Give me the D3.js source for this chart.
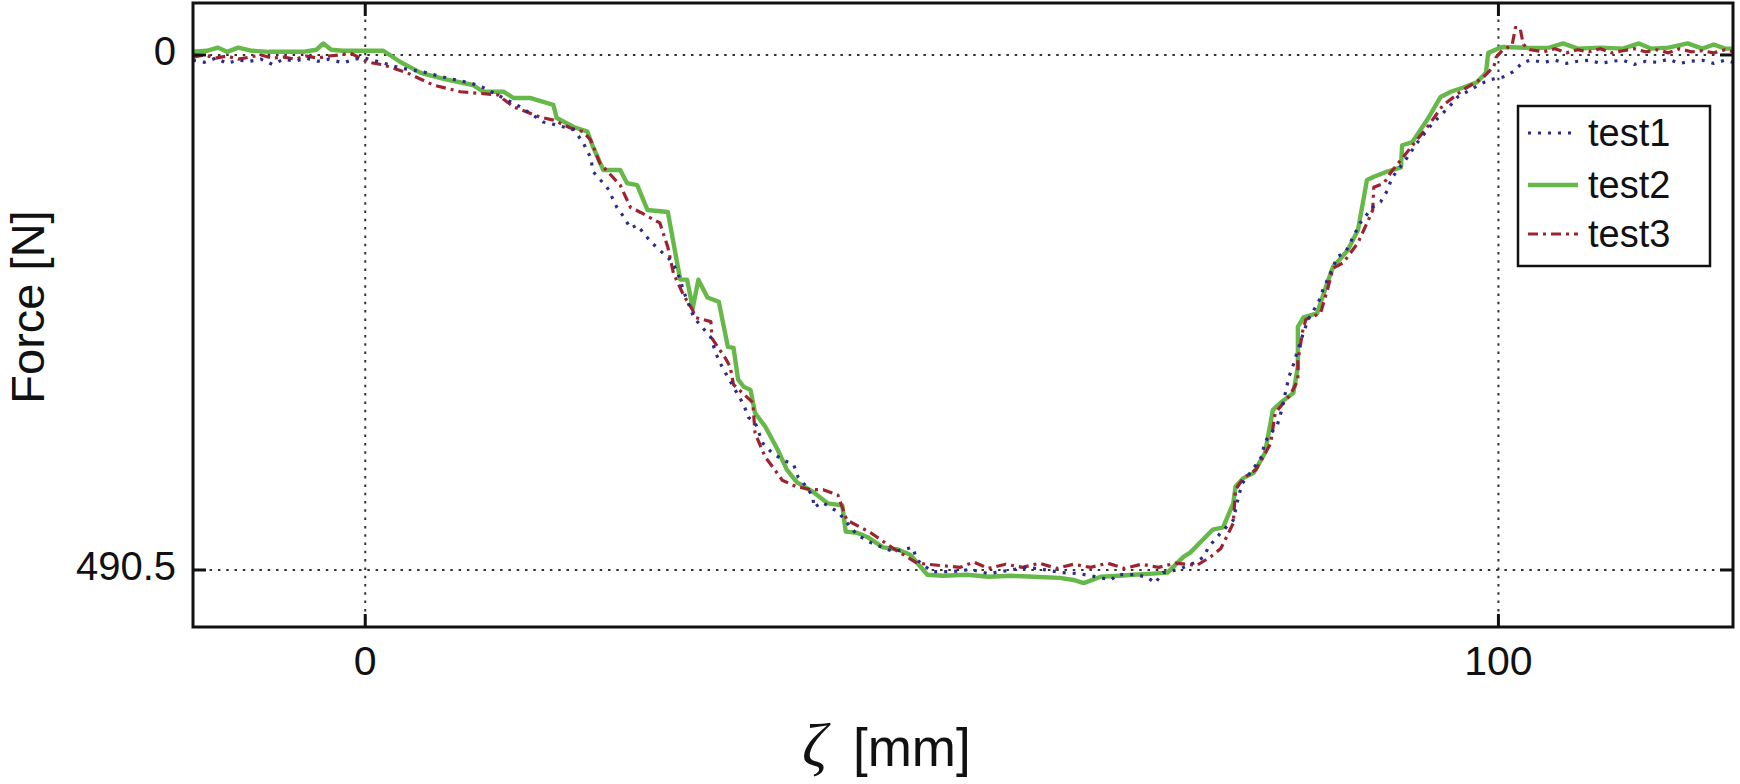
<!DOCTYPE html>
<html><head><meta charset="utf-8">
<script src="https://cdn.jsdelivr.net/npm/d3@7"></script>
<style>html,body{margin:0;padding:0;background:#fff;}svg{display:block;}</style>
</head><body>
<svg id="chart" width="1740" height="784"></svg>
<script>
const xTicks = [0, 100];
const xTickLabels = ["0", "100"];
const yTicks = [0, 490.5];
const yTickLabels = ["0", "490.5"];
const seriesNames = ["test1", "test2", "test3"];

const test1 = [[-15.2,5],[-14.2,7],[-13.2,3],[-12.2,8],[-11.2,5],[-10.2,6],[-9.2,4],[-8.2,9],[-7.2,4],[-6.2,6],[-5.2,3],[-4.2,6],[-3.2,4],[-1.9,7.6],[-1,4],[0,3],[1.3,6.7],[3.1,12.4],[5.1,16.2],[7.2,21.9],[9.3,26.7],[10.3,30.5],[12.2,41],[13.7,49.5],[15.7,63.8],[16.9,66.7],[18.4,71.4],[19.2,82.9],[19.9,98],[20.1,111],[21.4,127],[22.2,145],[22.8,154],[23.4,165],[24.0,162],[25.2,178],[26.3,189],[26.9,195],[27.5,205],[28.2,228],[29.0,250],[29.7,259],[30.5,269],[30.9,283],[31.3,293],[31.8,303],[32.8,322],[33.4,333],[33.8,345],[34.4,350],[35.1,370],[35.9,379],[36.9,386],[37.8,390],[38.2,402],[39.0,412],[39.5,421],[39.6,431],[40.3,426],[41.7,435],[43.4,457],[44.7,465],[46.6,473],[48.3,469],[48.7,481],[50.0,492],[51.9,492],[53.4,490],[55,494],[56.7,491],[58.4,488],[59.8,490],[61.5,493],[63,494],[64.5,497],[65.8,500],[66.4,495],[68.1,495],[69.1,498],[69.7,503],[70.4,493],[71.8,490],[73.3,483],[74.0,478],[74.4,469],[75.5,455],[76.6,443],[77.1,419],[77.4,408],[78.3,395],[79.2,381],[79.3,370],[80.5,352],[80.8,341],[81.3,317],[81.5,307],[81.9,295],[82.5,274],[83.2,252],[83.7,243],[84.1,236],[84.5,224],[85.0,212],[85.8,192],[86.5,188],[87.8,160],[88.9,145],[89.6,140],[90.2,129],[90.6,117],[91.8,100],[92.8,84],[94.2,65],[95.6,50],[96.4,40],[98.2,29],[99.1,24],[100.4,21],[101.3,16],[102.1,7.6],[102.8,4.8],[104,7],[105,5],[106,8],[107,6],[108,5],[109,8],[110,6],[111,5],[112,9],[113,6],[114,7],[115,4],[116,8],[117,6],[118,5],[119,8],[120,5],[120.7,7]];

const test2 = [[-15.2,-3],[-14,-4],[-13,-7],[-12.2,-3],[-11.2,-7],[-10,-4],[-8.5,-3],[-7,-3],[-5.5,-3],[-4.3,-5],[-3.7,-11],[-3,-5],[-2,-4],[0,-4],[1.6,-4],[3.1,6.7],[4.9,17],[7,23],[9.5,28.6],[10.4,35],[12.2,35],[13.1,41],[14.6,41],[16.6,47.6],[16.9,60],[18.4,68.6],[19.6,73],[20.1,87.6],[21.0,109.5],[22.5,109.5],[23.1,122],[24.0,124],[24.9,147.6],[26.7,149.5],[27.2,179],[27.8,214],[28.4,214],[28.9,241],[29.4,214],[30.2,231],[31.2,235],[32.0,278],[32.5,279],[32.9,309],[33.4,316],[34.0,319],[34.4,341],[35.3,354],[36.4,376],[37.2,395],[38.1,407],[39.5,416],[40.8,427],[42.1,429],[42.4,454],[43.4,455],[44.3,459],[45.7,469],[47.0,471],[48.1,476],[49.6,495],[51,496],[53.1,495],[55,497],[57,496],[59,497],[61.3,498],[62.5,500],[63.4,503],[64.9,497],[66.5,496],[67.8,495],[69.5,494],[70.8,493],[72.2,478],[72.8,474],[74.8,452],[75.7,450],[76.6,427],[76.8,411],[77.5,403],[78.4,398],[79.4,379],[80.1,338],[80.8,331],[81.9,322],[82.3,297],[82.3,259],[82.8,250],[84.0,246],[84.9,217],[85.4,202],[86.7,186],[87.6,167],[88.4,119],[89.0,116],[90.2,111],[91.4,107],[91.5,86],[92.4,83],[93.7,62],[94.9,40],[95.8,35],[96.9,31],[98.1,26],[98.9,17],[99.1,-2],[100.3,-7.6],[102.8,-6.7],[104.5,-7],[105.7,-11],[107,-6],[109,-7],[111,-6],[112.4,-11],[113.5,-6],[115,-7],[116.7,-11],[118,-6],[119,-10],[120,-6],[120.7,-6]];

const test3 = [[-15.2,2],[-14.2,0],[-13.2,3],[-12.2,1],[-11.2,4],[-10.2,2],[-9.2,0],[-8.2,3],[-7.2,2],[-6.2,4],[-5.2,1],[-4.2,3],[-3.2,1],[-2.2,0],[-1.3,-1.9],[0.2,6.7],[1.6,9.5],[3.7,17],[6.0,28.6],[8.4,35],[11.7,38],[13.1,49.5],[15.4,59],[16.6,62],[18.1,69.5],[19.2,73],[19.9,81],[20.7,103],[22.5,124],[23.4,145],[24.3,150],[26.0,160],[26.7,183],[27.2,208],[28.1,229],[28.9,243],[29.1,250],[30.5,254],[30.6,270],[31.8,289],[32.2,297],[32.5,314],[34.2,331],[34.4,360],[34.9,373],[35.3,383],[36.0,393],[36.8,405],[38.0,411],[39.3,414],[40.4,414],[41.7,419],[42.5,443],[44.6,455],[46.6,470],[48.7,484],[50.5,486],[52.5,488],[53.7,483],[55,489],[56.5,485],[58,488],[59.5,484],[61,489],[62.5,485],[64,488],[65.5,484],[67,489],[68.5,485],[70,488],[71.5,484],[73.4,486],[74.6,478],[75.5,470],[76.1,457],[76.6,446],[76.8,414],[77.5,403],[78.6,395],[79.9,370],[80.3,341],[81.6,324],[82.3,310],[82.3,292],[82.7,264],[83.0,252],[84.3,246],[84.9,224],[85.4,203],[86.3,198],[87.6,179],[88.4,160],[88.9,148],[89.0,126],[89.9,122],[90.5,112],[92.2,89],[93.7,69],[95.1,48],[96.9,33],[98.6,22],[99.6,11],[99.8,2],[100.4,-5],[101.2,-9],[101.5,-26],[101.9,-26],[102.2,-10],[102.8,-5],[104,-3],[105,-6],[106,-2],[107,-5],[108,-3],[109,-6],[110,-2],[111,-4],[112,-6],[113,-3],[114,-5],[115,-2],[116,-6],[117,-3],[118,-4],[119,-2],[120,-5],[120.7,-3]];

const svg = d3.select("#chart");
const L = 193, R = 1733, T = 3, B = 627;
const x = d3.scaleLinear().domain([-15.2, 120.7]).range([L, R]);
const y = d3.scaleLinear().domain([-49.5, 544.8]).range([T, B]);

svg.append("rect").attr("width",1740).attr("height",784).attr("fill","#fff");

// grid
const grid = svg.append("g").attr("stroke","#333").attr("stroke-width",2).attr("stroke-dasharray","2.5,5.8");
grid.selectAll("line.gx").data(xTicks).join("line")
  .attr("x1",d=>x(d)).attr("x2",d=>x(d)).attr("y1",T).attr("y2",B);
grid.selectAll("line.gy").data(yTicks).join("line")
  .attr("y1",d=>y(d)).attr("y2",d=>y(d)).attr("x1",L).attr("x2",R);

// clip
svg.append("clipPath").attr("id","clip").append("rect").attr("x",L).attr("y",T).attr("width",R-L).attr("height",B-T);

const line = d3.line().x(d=>x(d[0])).y(d=>y(d[1]));
const styles = [
  {data:test1, color:"#2b2a8e", width:3.2, dash:"3,7"},
  {data:test2, color:"#66b848", width:4.4, dash:null},
  {data:test3, color:"#9e2330", width:3.2, dash:"10,5,3,5"}
];
const plot = svg.append("g").attr("clip-path","url(#clip)");
[1,2,0].forEach(i=>{
  const s = styles[i];
  plot.append("path").datum(s.data).attr("d",line).attr("fill","none")
    .attr("stroke",s.color).attr("stroke-width",s.width)
    .attr("stroke-linejoin","round")
    .attr("stroke-dasharray",s.dash);
});

// frame
svg.append("rect").attr("x",L).attr("y",T).attr("width",R-L).attr("height",B-T)
  .attr("fill","none").attr("stroke","#111").attr("stroke-width",3);

// ticks (inward, all sides)
const tk = svg.append("g").attr("stroke","#111").attr("stroke-width",3);
xTicks.forEach(v=>{
  tk.append("line").attr("x1",x(v)).attr("x2",x(v)).attr("y1",B).attr("y2",B-13);
  tk.append("line").attr("x1",x(v)).attr("x2",x(v)).attr("y1",T).attr("y2",T+13);
});
yTicks.forEach(v=>{
  tk.append("line").attr("y1",y(v)).attr("y2",y(v)).attr("x1",L).attr("x2",L+13);
  tk.append("line").attr("y1",y(v)).attr("y2",y(v)).attr("x1",R).attr("x2",R-13);
});

const font = "Liberation Sans, Arial, Helvetica, sans-serif";
svg.append("g").selectAll("text").data(xTicks).join("text")
  .attr("x",d=>x(d)).attr("y",675).attr("text-anchor","middle")
  .attr("font-family",font).attr("font-size",41).attr("fill","#111")
  .text((d,i)=>xTickLabels[i]);
svg.append("g").selectAll("text").data(yTicks).join("text")
  .attr("x",176).attr("y",d=>y(d)+10).attr("text-anchor","end")
  .attr("font-family",font).attr("font-size",40).attr("fill","#111")
  .text((d,i)=>yTickLabels[i]);

// axis labels
svg.append("text").attr("transform","translate(44,307) rotate(-90)")
  .attr("text-anchor","middle").attr("font-family",font).attr("font-size",47).attr("fill","#111")
  .text("Force [N]");
svg.append("text").attr("x",802).attr("y",766)
  .attr("font-family","Liberation Serif, DejaVu Serif, serif").attr("font-style","italic")
  .attr("font-size",62).attr("fill","#111").text("ζ");
svg.append("text").attr("x",853).attr("y",766)
  .attr("font-family",font).attr("font-size",53).attr("fill","#111").text("[mm]");

// legend
const lg = svg.append("g");
lg.append("rect").attr("x",1518).attr("y",106).attr("width",192).attr("height",160)
  .attr("fill","#fff").attr("stroke","#111").attr("stroke-width",2.5);
const ly = [133,185,234];
styles.forEach((s,i)=>{
  lg.append("line").attr("x1",1528).attr("x2",1578).attr("y1",ly[i]).attr("y2",ly[i])
    .attr("stroke",s.color).attr("stroke-width",s.width).attr("stroke-dasharray",s.dash);
  lg.append("text").attr("x",1588).attr("y",ly[i]+13).attr("font-family",font)
    .attr("font-size",38).attr("fill","#111").text(seriesNames[i]);
});
</script>
</body></html>
